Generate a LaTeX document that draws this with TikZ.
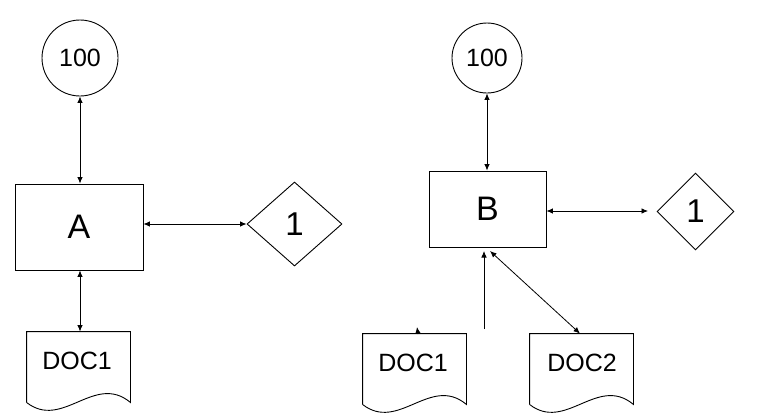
\documentclass[tikz,border=0pt]{standalone}
\usepackage{fontspec}
\setmainfont{Liberation Sans}
\usetikzlibrary{shapes.geometric,arrows.meta}
\begin{document}
\begin{tikzpicture}[x=1pt,y=-1pt,line width=0.9pt,
  conn/.style={line width=0.8pt,{Latex[length=6.5pt,width=5.5pt]}-{Latex[length=6.5pt,width=5.5pt]}},
  oneway/.style={line width=0.8pt,-{Latex[length=6.5pt,width=5.5pt]}},
  circnode/.style={draw,circle,inner sep=0pt,font=\fontsize{25}{29}\selectfont},
  boxnode/.style={draw,rectangle,inner sep=0pt,font=\fontsize{34}{38}\selectfont},
  dianode/.style={draw,diamond,inner sep=0pt,font=\fontsize{33}{36}\selectfont},
  docframe/.style={rectangle,inner sep=0pt},
  doctext/.style={inner sep=0pt,font=\fontsize{25}{29}\selectfont}]
\useasboundingbox (0,0) rectangle (767,413);
\fill[white] (0,0) rectangle (767,413);
% left group
\node[circnode,minimum size=76pt] (c1) at (80,58) {100};
\node[boxnode,minimum width=128pt,minimum height=86pt] (A) at (79,227) {A};
\node[dianode,minimum width=95pt,minimum height=84pt] (d1) at (294.5,224) {1};
\node[docframe,minimum width=103pt,minimum height=70pt] (docA) at (78.5,367) {};
\node[doctext] (docAt) at (77,361) {DOC1};
\draw (docA.south west) -- (docA.north west) -- (docA.north east) -- (docA.south east)
  .. controls +(-36,-30) and +(36,28) .. (docA.south west);
\draw[conn] (c1.south) -- (c1.south |- A.north);
\draw[conn] (A.east |- d1.west) -- (d1.west);
\draw[conn] (docA.north -| c1.south) -- (c1.south |- A.south);
% right group
\node[circnode,minimum size=70pt] (c2) at (487,58) {100};
\node[boxnode,minimum width=117pt,minimum height=76pt] (B) at (487.5,209) {B};
\node[dianode,minimum width=77pt,minimum height=77pt] (d2) at (695.5,211.5) {1};
\node[docframe,minimum width=103pt,minimum height=70pt] (docB1) at (414.5,369) {};
\node[doctext] (docB1t) at (413,363) {DOC1};
\draw (docB1.south west) -- (docB1.north west) -- (docB1.north east) -- (docB1.south east)
  .. controls +(-36,-30) and +(36,28) .. (docB1.south west);
\node[docframe,minimum width=103pt,minimum height=70pt] (docB2) at (581.5,369) {};
\node[doctext] (docB2t) at (582,363) {DOC2};
\draw (docB2.south west) -- (docB2.north west) -- (docB2.north east) -- (docB2.south east)
  .. controls +(-36,-30) and +(36,28) .. (docB2.south west);
\draw[conn] (c2.south) -- (c2.south |- B.north);
\coordinate (bR) at (648,211);
\draw[conn] (B.east |- bR) -- (bR);
\coordinate (vs) at (484,329);
\coordinate (ve) at (484,251);
\draw[oneway] (vs) -- (ve);
\coordinate (ds) at (490,251);
\draw[conn] (ds) -- (docB2.north -| 580,0);
\coordinate (st) at (418,334);
\draw[oneway] (st) -- (417,327);
\end{tikzpicture}
\end{document}
